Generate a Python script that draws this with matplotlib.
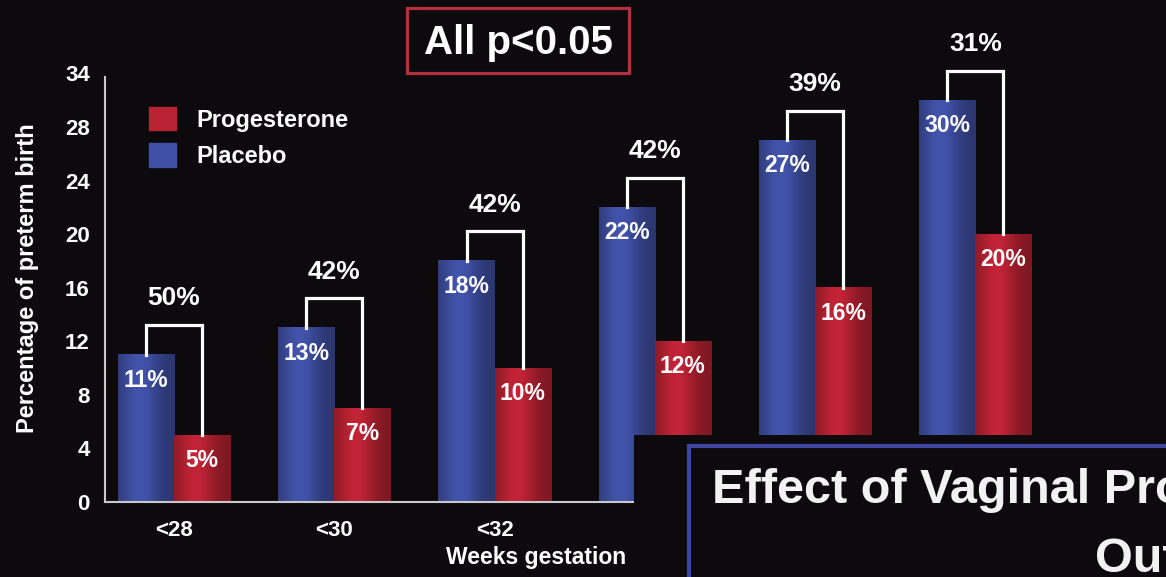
import numpy as np
import matplotlib
matplotlib.use('Agg')
import matplotlib.pyplot as plt
from matplotlib.patches import Patch, Rectangle
from matplotlib.colors import to_rgb

# Preterm birth rate (%) by gestational age cut-off
weeks = ['<28', '<30', '<32', '<33', '<34', '<35']
placebo = [11, 13, 18, 22, 27, 30]
progesterone = [5, 7, 10, 12, 16, 20]
reduction = [50, 42, 42, 42, 39, 31]
ytick_vals = [0, 4, 8, 12, 16, 20, 24, 28, 32]
ytick_labels = ['0', '4', '8', '12', '16', '20', '24', '28', '34']

BG = '#0c0a0d'
BLUE = '#3f4fa3'
RED = '#b82233'
AXIS = '#c8c8c8'

plt.rcParams['font.family'] = ['Liberation Sans', 'DejaVu Sans']
plt.rcParams['font.weight'] = 'bold'
plt.rcParams['axes.labelweight'] = 'bold'

W, H = 1166, 577
fig = plt.figure(figsize=(W / 100, H / 100), dpi=100, facecolor=BG)
ax = fig.add_axes([105 / W, 75 / H, 1061 / W, 462 / H])
ax.set_facecolor(BG)


def px(x, y):
    # pixel position (from top-left) -> figure fraction
    return x / W, 1 - y / H


def shade(bars, color):
    # horizontal gradient so the bars look like cylinders
    t = np.linspace(0, 1, 64)
    f = 0.68 + 0.38 * np.exp(-((t - 0.38) / 0.33) ** 2)
    rgb = np.clip(np.outer(f, to_rgb(color)), 0, 1)[None, :, :]
    for b in bars:
        x0, y0 = b.get_x(), b.get_y()
        ax.imshow(rgb, extent=(x0, x0 + b.get_width(), y0, y0 + b.get_height()),
                  aspect='auto', interpolation='bilinear', zorder=2.5)


x = np.arange(len(weeks))
w = 0.35
bars_pl = ax.bar(x - w / 2, placebo, w, color=BLUE, zorder=2)
bars_pr = ax.bar(x + w / 2, progesterone, w, color=RED, zorder=2)
shade(bars_pl, BLUE)
shade(bars_pr, RED)

# value labels inside the bar tops
for bars, vals in ((bars_pl, placebo), (bars_pr, progesterone)):
    for b, v in zip(bars, vals):
        ax.text(b.get_x() + b.get_width() / 2, v - 1.9, f'{v}%', ha='center',
                va='center', color='white', fontsize=16.5, zorder=4)

# brackets with the relative reduction
for xi, pl, pr, r in zip(x, placebo, progesterone, reduction):
    top = pl + 2.2
    xl, xr = xi - w / 2, xi + w / 2
    ax.plot([xl, xl, xr, xr], [pl, top, top, pr], color='white', lw=2.3,
            solid_joinstyle='miter', zorder=3)
    ax.text(xi, top + 2.0, f'{r}%', ha='center', va='center', color='white',
            fontsize=19, zorder=4, clip_on=False)

ax.set_xlim(-0.431, 6.19)
ax.set_ylim(0, 34.5)
ax.set_yticks(ytick_vals, ytick_labels)
ax.set_xticks(x, weeks)
ax.tick_params(axis='y', length=0, colors='white', labelsize=16, pad=11)
ax.tick_params(axis='x', length=0, colors='white', labelsize=16, pad=13)
for s in ('top', 'right'):
    ax.spines[s].set_visible(False)
for s in ('left', 'bottom'):
    ax.spines[s].set_color(AXIS)
    ax.spines[s].set_linewidth(1.5)
ax.spines['left'].set_bounds(0, 31.7)

ax.set_ylabel('Percentage of preterm birth', color='white', fontsize=17, va='center')
ax.yaxis.set_label_coords(-0.0726, 0.485)
ax.set_xlabel('Weeks gestation', color='white', fontsize=16.5, va='top')
ax.xaxis.set_label_coords(0.406, -0.095)

handles = [Patch(color=RED), Patch(color=BLUE)]
ax.legend(handles, ['Progesterone', 'Placebo'], loc='upper left',
          bbox_to_anchor=px(149, 107), bbox_transform=fig.transFigure,
          frameon=False, fontsize=17, labelcolor='white', borderpad=0,
          borderaxespad=0, handlelength=1.14, handleheight=1.14,
          handletextpad=0.85, labelspacing=0.5)

# significance box
fig.add_artist(Rectangle(px(407, 73), 222 / W, 65 / H, transform=fig.transFigure,
                         fill=False, edgecolor='#b3303d', lw=2.3))
fig.text(*px(518, 54), 'All p<0.05', ha='center', va='baseline', color='white',
         fontsize=29)

# title card sliding in over the lower right corner
fig.add_artist(Rectangle(px(634, H), (W - 634) / W, (H - 435) / H,
                         transform=fig.transFigure, facecolor=BG, edgecolor='none',
                         zorder=10))
fig.add_artist(Rectangle(px(689, H + 10), (W - 689 + 10) / W, (H + 10 - 446) / H,
                         transform=fig.transFigure, fill=False, edgecolor='#3c46a0',
                         lw=3, zorder=11))
fig.text(*px(712, 503), 'Effect of Vaginal Progesterone on', va='baseline',
         color='#f2f2f2', fontsize=35, zorder=12)
fig.text(*px(1095, 572), 'Outcomes', va='baseline', color='#f2f2f2',
         fontsize=35, zorder=12)

fig.savefig('out.png', dpi=100, facecolor=BG)
